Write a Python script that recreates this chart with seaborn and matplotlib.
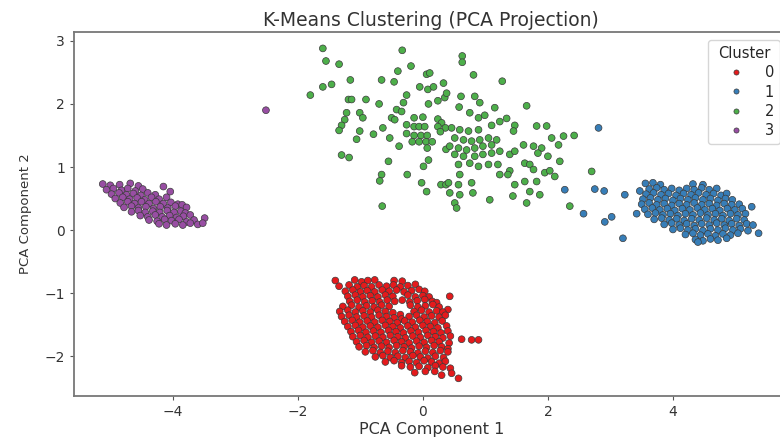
import matplotlib
matplotlib.use("Agg")
import matplotlib.pyplot as plt
import seaborn as sns
import pandas as pd

# PCA-projected samples, grouped by the cluster K-Means assigned them to.
cluster0_points = [
    (-1.40, -0.80), (-1.09, -0.79), (-0.98, -0.82), (-0.88, -0.80), (-0.77, -0.79), (-0.46, -0.80), (-0.33, -0.81),
    (-1.34, -0.89), (-1.18, -0.87), (-1.05, -0.90), (-0.94, -0.88), (-0.82, -0.90), (-0.70, -0.87), (-0.58, -0.89),
    (-0.47, -0.87), (-0.36, -0.90), (-0.24, -0.88), (-0.12, -0.86),
    (-1.24, -0.97), (-1.12, -0.95), (-1.00, -0.98), (-0.89, -0.96), (-0.77, -0.98), (-0.65, -0.95), (-0.54, -0.97),
    (-0.42, -0.95), (-0.30, -0.98), (-0.18, -0.96), (-0.06, -0.94), (0.03, -0.97),
    (-1.20, -1.05), (-1.08, -1.03), (-0.96, -1.06), (-0.84, -1.04), (-0.72, -1.06), (-0.60, -1.03), (-0.48, -1.05),
    (-0.24, -1.03), (-0.12, -1.06), (0.00, -1.04), (0.10, -1.06), (0.43, -1.05),
    (-1.17, -1.13), (-1.05, -1.11), (-0.93, -1.14), (-0.81, -1.12), (-0.69, -1.14), (-0.57, -1.11), (-0.45, -1.13),
    (-0.33, -1.11), (-0.21, -1.14), (-0.09, -1.12), (0.03, -1.10), (0.15, -1.13), (0.22, -1.15),
    (-1.28, -1.21), (-1.14, -1.19), (-1.02, -1.22), (-0.90, -1.20), (-0.78, -1.22), (-0.66, -1.19), (-0.54, -1.21),
    (-0.20, -1.19), (-0.08, -1.22), (0.04, -1.20), (0.16, -1.18), (0.26, -1.22), (0.40, -1.26),
    (-1.33, -1.29), (-1.20, -1.27), (-1.08, -1.30), (-0.96, -1.28), (-0.84, -1.30), (-0.72, -1.27), (-0.60, -1.29),
    (-0.48, -1.31), (-0.36, -1.34), (-0.14, -1.29), (-0.02, -1.27), (0.10, -1.30), (0.22, -1.28), (0.32, -1.30),
    (-1.30, -1.37), (-1.18, -1.35), (-1.06, -1.38), (-0.94, -1.36), (-0.82, -1.38), (-0.70, -1.35), (-0.58, -1.37),
    (-0.46, -1.39), (-0.34, -1.41), (-0.22, -1.37), (-0.10, -1.35), (0.02, -1.38), (0.14, -1.36), (0.26, -1.38),
    (0.36, -1.35),
    (-1.25, -1.45), (-1.13, -1.43), (-1.01, -1.46), (-0.89, -1.44), (-0.77, -1.46), (-0.65, -1.43), (-0.53, -1.45),
    (-0.41, -1.47), (-0.29, -1.44), (-0.17, -1.46), (-0.05, -1.43), (0.07, -1.45), (0.19, -1.47), (0.31, -1.44),
    (-1.20, -1.53), (-1.08, -1.51), (-0.96, -1.54), (-0.84, -1.52), (-0.72, -1.54), (-0.60, -1.51), (-0.48, -1.53),
    (-0.36, -1.55), (-0.24, -1.52), (-0.12, -1.54), (0.00, -1.51), (0.12, -1.53), (0.24, -1.55), (0.38, -1.52),
    (-1.15, -1.61), (-1.03, -1.59), (-0.91, -1.62), (-0.79, -1.60), (-0.67, -1.62), (-0.55, -1.59), (-0.43, -1.61),
    (-0.31, -1.63), (-0.19, -1.60), (-0.07, -1.62), (0.05, -1.59), (0.17, -1.61), (0.29, -1.63), (0.40, -1.60),
    (-1.12, -1.69), (-1.00, -1.67), (-0.88, -1.70), (-0.76, -1.68), (-0.64, -1.70), (-0.52, -1.67), (-0.40, -1.69),
    (-0.28, -1.71), (-0.16, -1.68), (-0.04, -1.70), (0.08, -1.67), (0.20, -1.69), (0.32, -1.71), (0.44, -1.68),
    (0.62, -1.73), (0.78, -1.74), (0.89, -1.74),
    (-1.06, -1.77), (-0.94, -1.75), (-0.82, -1.78), (-0.70, -1.76), (-0.58, -1.78), (-0.46, -1.75), (-0.34, -1.77),
    (-0.22, -1.79), (-0.10, -1.76), (0.02, -1.78), (0.14, -1.75), (0.26, -1.77), (0.42, -1.79),
    (-1.02, -1.85), (-0.90, -1.83), (-0.78, -1.86), (-0.66, -1.84), (-0.54, -1.86), (-0.42, -1.83), (-0.30, -1.85),
    (-0.18, -1.87), (-0.06, -1.84), (0.06, -1.86), (0.18, -1.83), (0.30, -1.85), (0.40, -1.88),
    (-0.92, -1.93), (-0.80, -1.91), (-0.68, -1.94), (-0.56, -1.92), (-0.44, -1.94), (-0.32, -1.91), (-0.20, -1.93),
    (-0.08, -1.95), (0.04, -1.92), (0.16, -1.94), (0.28, -1.91), (0.40, -1.93),
    (-0.76, -2.01), (-0.64, -1.99), (-0.52, -2.02), (-0.40, -2.00), (-0.28, -2.02), (-0.16, -1.99), (-0.04, -2.01),
    (0.08, -2.03), (0.20, -2.00), (0.33, -2.02),
    (-0.60, -2.09), (-0.46, -2.07), (-0.34, -2.10), (-0.22, -2.08), (-0.10, -2.10), (0.02, -2.07), (0.14, -2.09),
    (0.26, -2.11), (0.36, -2.08),
    (-0.34, -2.15), (-0.20, -2.17), (-0.06, -2.16), (0.08, -2.18), (0.20, -2.15), (0.32, -2.17), (0.44, -2.19),
    (-0.13, -2.26), (0.04, -2.24), (0.19, -2.24), (0.30, -2.30), (0.46, -2.27), (0.57, -2.35),
]

cluster1_points = [
    (2.81, 1.62), (2.27, 0.64), (2.75, 0.65), (2.90, 0.62), (3.23, 0.56), (3.47, 0.62), (2.57, 0.26),
    (2.91, 0.13), (3.02, 0.21), (3.42, 0.26), (3.20, -0.13),
    (3.56, 0.74), (3.68, 0.75), (3.80, 0.72), (4.32, 0.73), (4.48, 0.72),
    (3.62, 0.65), (3.74, 0.67), (3.86, 0.64), (3.98, 0.66), (4.10, 0.63), (4.22, 0.66), (4.34, 0.64),
    (4.46, 0.67), (4.58, 0.64), (4.70, 0.66),
    (3.57, 0.57), (3.69, 0.59), (3.81, 0.56), (3.93, 0.58), (4.05, 0.55), (4.17, 0.58), (4.29, 0.56),
    (4.41, 0.59), (4.53, 0.56), (4.65, 0.58), (4.77, 0.55), (4.86, 0.58),
    (3.52, 0.49), (3.64, 0.51), (3.76, 0.48), (3.88, 0.50), (4.00, 0.47), (4.12, 0.50), (4.24, 0.48),
    (4.36, 0.51), (4.48, 0.48), (4.60, 0.50), (4.72, 0.47), (4.84, 0.50), (4.95, 0.48),
    (3.50, 0.41), (3.62, 0.43), (3.74, 0.40), (3.86, 0.42), (3.98, 0.39), (4.10, 0.42), (4.22, 0.40),
    (4.34, 0.43), (4.46, 0.40), (4.58, 0.42), (4.70, 0.39), (4.82, 0.42), (4.94, 0.40), (5.06, 0.41),
    (3.55, 0.33), (3.67, 0.35), (3.79, 0.32), (3.91, 0.34), (4.03, 0.31), (4.15, 0.34), (4.27, 0.32),
    (4.39, 0.35), (4.51, 0.32), (4.63, 0.34), (4.75, 0.31), (4.87, 0.34), (4.99, 0.32), (5.11, 0.34),
    (5.26, 0.37),
    (3.60, 0.25), (3.72, 0.27), (3.84, 0.24), (3.96, 0.26), (4.08, 0.23), (4.20, 0.26), (4.32, 0.24),
    (4.44, 0.27), (4.56, 0.24), (4.68, 0.26), (4.80, 0.23), (4.92, 0.26), (5.04, 0.24), (5.16, 0.26),
    (3.70, 0.17), (3.82, 0.19), (3.94, 0.16), (4.06, 0.18), (4.18, 0.15), (4.30, 0.18), (4.42, 0.16),
    (4.54, 0.19), (4.66, 0.16), (4.78, 0.18), (4.90, 0.15), (5.02, 0.18), (5.14, 0.16),
    (3.86, 0.09), (3.98, 0.11), (4.10, 0.08), (4.22, 0.10), (4.34, 0.07), (4.46, 0.10), (4.58, 0.08),
    (4.70, 0.11), (4.82, 0.08), (4.94, 0.10), (5.06, 0.07), (5.18, 0.10), (5.28, 0.08),
    (4.00, 0.01), (4.12, 0.03), (4.24, 0.00), (4.36, 0.02), (4.48, -0.01), (4.60, 0.02), (4.72, 0.00),
    (4.84, 0.03), (4.96, 0.00), (5.08, 0.02), (5.20, -0.01), (5.37, -0.05),
    (4.20, -0.07), (4.32, -0.05), (4.44, -0.08), (4.56, -0.06), (4.68, -0.09), (4.80, -0.06), (4.92, -0.08),
    (5.04, -0.05),
    (4.36, -0.15), (4.48, -0.17), (4.60, -0.14), (4.72, -0.16), (4.86, -0.13), (4.40, -0.19),
]

cluster2_points = [
    (-1.60, 2.88), (-0.33, 2.85), (-1.55, 2.68), (-1.34, 2.63), (-0.40, 2.52), (-0.19, 2.60), (-1.16, 2.38),
    (-0.66, 2.38), (-0.46, 2.35), (-1.60, 2.27), (-1.46, 2.31), (-1.80, 2.14), (0.06, 2.47), (0.11, 2.49),
    (-0.05, 2.27), (0.08, 2.23), (0.33, 2.33), (0.17, 2.27), (-1.19, 2.07), (-1.14, 2.07), (-0.91, 2.07),
    (-0.70, 2.00), (-0.26, 2.14), (-0.31, 2.02), (-0.42, 1.91), (-0.50, 1.78), (-0.45, 1.75), (-0.34, 1.88),
    (-1.22, 1.86), (-1.25, 1.75), (-1.30, 1.66), (-1.34, 1.58), (-1.01, 1.86), (-0.96, 1.78), (-1.01, 1.57),
    (-1.06, 1.44), (-0.79, 1.52), (-0.64, 1.62), (-0.53, 1.46), (-0.38, 1.33), (-0.26, 1.67), (-0.26, 1.53),
    (-0.14, 1.78), (0.00, 1.79), (-0.14, 1.64), (-0.06, 1.64), (0.03, 1.64), (-0.14, 1.50), (-0.03, 1.50),
    (0.07, 1.50), (-0.17, 1.40), (-0.06, 1.40), (0.05, 1.40), (0.15, 1.40), (0.07, 1.30), (0.24, 1.76),
    (0.30, 1.70), (0.24, 1.64), (0.36, 1.62), (0.28, 1.56), (0.09, 2.00), (0.24, 2.05), (0.35, 2.10),
    (0.37, 1.28), (-1.30, 1.19), (-1.18, 1.15), (-0.55, 1.09), (0.01, 1.01), (0.09, 1.11), (-0.66, 0.88),
    (-0.69, 0.78), (-0.25, 0.88), (-0.02, 0.75), (0.06, 0.61), (0.29, 0.72), (0.37, 0.72), (-0.65, 0.38),
    (0.63, 2.76), (0.63, 2.66), (0.81, 2.46), (1.27, 2.36), (0.38, 2.17), (0.61, 2.12), (0.83, 2.12),
    (0.91, 2.02), (0.58, 1.95), (1.15, 1.94), (1.66, 1.97), (0.75, 1.86), (0.89, 1.78), (0.99, 1.82),
    (1.10, 1.66), (1.23, 1.72), (1.34, 1.77), (1.47, 1.66), (1.45, 1.57), (1.82, 1.65), (1.98, 1.65),
    (2.06, 1.46), (2.25, 1.49), (2.42, 1.50), (2.17, 1.35),
    (0.46, 1.62), (0.59, 1.59), (0.73, 1.57), (0.89, 1.59), (0.51, 1.46), (0.65, 1.43), (0.78, 1.41),
    (0.91, 1.43), (1.05, 1.46), (1.18, 1.43), (0.43, 1.33), (0.57, 1.30), (0.70, 1.27), (0.83, 1.30),
    (0.96, 1.33), (1.10, 1.35), (0.51, 1.20), (0.65, 1.17), (0.83, 1.17), (0.96, 1.20), (1.10, 1.22),
    (1.23, 1.25), (0.57, 1.04), (0.75, 1.06), (0.89, 1.01), (1.05, 1.04), (1.20, 1.04), (0.59, 0.88),
    (1.39, 1.20), (1.47, 1.25), (1.61, 1.35), (1.77, 1.33), (1.90, 1.30), (1.84, 1.22), (2.00, 1.17),
    (1.63, 1.06), (1.71, 1.04), (1.39, 0.94), (1.23, 0.88), (1.36, 0.88), (2.19, 1.09), (1.77, 0.96),
    (1.95, 0.91), (2.03, 0.94), (2.11, 0.85), (2.70, 0.93), (0.41, 0.75), (0.57, 0.72), (0.78, 0.75),
    (0.43, 0.59), (0.59, 0.56), (0.80, 0.59), (0.51, 0.43), (0.54, 0.35), (1.07, 0.48), (1.47, 0.72),
    (1.63, 0.77), (1.82, 0.77), (1.44, 0.54), (1.71, 0.61), (1.87, 0.56), (1.66, 0.43), (2.35, 0.38),
]

cluster3_points = [
    (-2.51, 1.90),
    (-5.12, 0.73), (-5.00, 0.71), (-4.85, 0.72), (-4.68, 0.74), (-4.55, 0.70),
    (-5.06, 0.64), (-4.95, 0.66), (-4.82, 0.63), (-4.72, 0.66), (-4.60, 0.62), (-4.48, 0.65), (-4.15, 0.69),
    (-4.98, 0.57), (-4.86, 0.59), (-4.74, 0.56), (-4.63, 0.58), (-4.51, 0.55), (-4.40, 0.59), (-4.28, 0.56),
    (-4.04, 0.61),
    (-4.92, 0.50), (-4.80, 0.52), (-4.69, 0.49), (-4.57, 0.51), (-4.45, 0.48), (-4.34, 0.52), (-4.22, 0.49),
    (-4.10, 0.52),
    (-4.84, 0.43), (-4.72, 0.45), (-4.61, 0.42), (-4.50, 0.45), (-4.38, 0.42), (-4.27, 0.45), (-4.15, 0.42),
    (-4.03, 0.44), (-3.92, 0.41),
    (-4.78, 0.36), (-4.66, 0.38), (-4.55, 0.35), (-4.43, 0.37), (-4.31, 0.34), (-4.20, 0.37), (-4.08, 0.35),
    (-3.96, 0.38), (-3.85, 0.40), (-3.78, 0.36),
    (-4.66, 0.29), (-4.55, 0.31), (-4.44, 0.28), (-4.32, 0.30), (-4.21, 0.28), (-4.09, 0.31), (-3.98, 0.28),
    (-3.87, 0.30), (-3.80, 0.27),
    (-4.52, 0.23), (-4.40, 0.21), (-4.28, 0.24), (-4.17, 0.21), (-4.05, 0.23), (-3.94, 0.20), (-3.83, 0.22),
    (-3.72, 0.24),
    (-4.38, 0.16), (-4.25, 0.14), (-4.13, 0.17), (-4.02, 0.15), (-3.90, 0.17), (-3.78, 0.13), (-3.66, 0.16),
    (-3.49, 0.19),
    (-4.22, 0.10), (-4.10, 0.08), (-3.96, 0.10), (-3.84, 0.08), (-3.72, 0.11), (-3.60, 0.09), (-3.52, 0.11),
]

cluster_labels = ["0", "1", "2", "3"]
title_text = "K-Means Clustering (PCA Projection)"
x_label = "PCA Component 1"
y_label = "PCA Component 2"

rows = []
for label, pts in zip(cluster_labels, [cluster0_points, cluster1_points, cluster2_points, cluster3_points]):
    for x, y in pts:
        rows.append({"PCA1": x, "PCA2": y, "Cluster": label})
df = pd.DataFrame(rows)

sns.set_style("ticks")
plt.rcParams["font.family"] = ["DejaVu Sans"]

fig = plt.figure(figsize=(7.8, 4.37), dpi=100)
ax = fig.add_axes([74 / 780, 41 / 437, 714.6 / 780, 364 / 437])

sns.scatterplot(
    data=df, x="PCA1", y="PCA2", hue="Cluster", hue_order=cluster_labels,
    palette="Set1", s=24, edgecolor="#3a3a3a", linewidth=0.5, ax=ax,
)

ax.set_xlim(-5.58, 5.85)
ax.set_ylim(-2.63, 3.14)
ax.set_xticks([-4, -2, 0, 2, 4])
ax.set_yticks([-2, -1, 0, 1, 2, 3])
ax.set_title(title_text, fontsize=13.5, color="#333333", pad=4)
ax.set_xlabel(x_label, fontsize=11.5, color="#333333", labelpad=2)
ax.set_ylabel(y_label, fontsize=9.5, color="#333333", labelpad=9)
ax.tick_params(labelsize=10, colors="#555555", labelcolor="#333333", length=3)
for side in ["left", "bottom", "top", "right"]:
    ax.spines[side].set_visible(True)
    ax.spines[side].set_color("#777777")
    ax.spines[side].set_linewidth(1.3)

leg = ax.legend(title="Cluster", loc="upper left", fontsize=10.5, title_fontsize=10.5,
                frameon=True, markerscale=0.75, labelspacing=0.3,
                handlelength=3.0, handletextpad=0.5,
                bbox_to_anchor=(708 / 780, 1 - 40 / 437), bbox_transform=fig.transFigure,
                borderaxespad=0)
leg.get_frame().set_edgecolor("#cccccc")

fig.savefig("out.png", dpi=100)
